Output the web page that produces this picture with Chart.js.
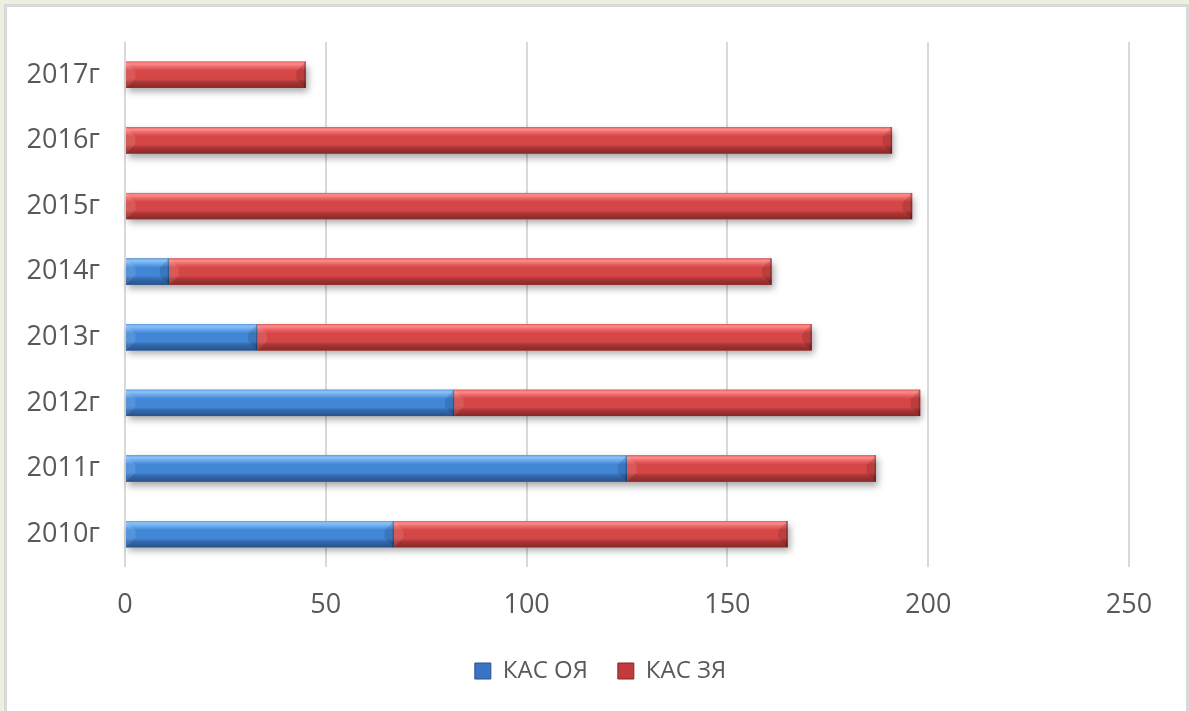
<!DOCTYPE html>
<html>
<head>
<meta charset="utf-8">
<script src="https://cdn.jsdelivr.net/npm/chart.js@4/dist/chart.umd.min.js"></script>
<style>
  html, body { margin: 0; padding: 0; background: #ebf1de; width: 1189px; height: 711px; overflow: hidden; }
  #frame {
    position: absolute; left: 4px; top: 4px; width: 1179px; height: 707px;
    border-left: 3px solid #d9d9d9; border-top: 3px solid #d9d9d9; border-right: 3px solid #d9d9d9;
    background: #ffffff;
  }
  #wrap { position: absolute; left: 0; top: 0; width: 1179px; height: 704px; }
</style>
</head>
<body>
<div id="frame"><div id="wrap"><canvas id="c"></canvas></div></div>
<script>
// Years (bottom to top)
const years = ['2010г', '2011г', '2012г', '2013г', '2014г', '2015г', '2016г', '2017г'];
// КАС ОЯ
const kasOY = [67, 125, 82, 33, 11, 0, 0, 0];
// КАС ЗЯ
const kasZY = [98, 62, 116, 138, 150, 196, 191, 45];
// X axis ticks
const xTicks = [0, 50, 100, 150, 200, 250];

const FONT = '"Open Sans", "Liberation Sans", sans-serif';
const TEXT = '#595959';

// Shading for the bevelled bars
const shades = {
  blue: { top: '#8cc2f6', hi: '#62a3ea', mid: '#4287d6', low: '#3468ad', edge: '#28528a', box: '#3a74c4' },
  red:  { top: '#fa8e8e', hi: '#ea6060', mid: '#d54747', low: '#ab3535', edge: '#862929', box: '#c23a3a' }
};

// Centre the legend on the whole canvas rather than on the padded area
const legendShift = {
  id: 'legendShift',
  afterLayout(chart) {
    const lg = chart.legend;
    if (!lg) return;
    const dx = chart.width / 2 + 4 - (lg.left + lg.right) / 2;
    lg.left += dx; lg.right += dx;
  }
};

const bevelPlugin = {
  id: 'bevel',
  beforeDatasetsDraw(chart) {
    // soft drop shadow beneath each stacked bar
    const ctx = chart.ctx;
    const metas = chart.getSortedVisibleDatasetMetas();
    const n = chart.data.labels.length;
    ctx.save();
    for (let i = 0; i < n; i++) {
      let minX = Infinity, maxX = -Infinity, y = 0, h = 0;
      metas.forEach(m => {
        const el = m.data[i];
        if (!el) return;
        const a = Math.min(el.x, el.base), b = Math.max(el.x, el.base);
        if (b - a < 0.5) return;
        minX = Math.min(minX, a); maxX = Math.max(maxX, b); y = el.y; h = el.height;
      });
      if (!isFinite(minX)) continue;
      ctx.shadowColor = 'rgba(0,0,0,0.35)';
      ctx.shadowBlur = 7;
      ctx.shadowOffsetX = 2;
      ctx.shadowOffsetY = 4;
      ctx.fillStyle = '#888';
      ctx.fillRect(minX, y - h / 2, maxX - minX, h);
    }
    ctx.restore();
  },
  afterDatasetsDraw(chart) {
    const ctx = chart.ctx;
    chart.getSortedVisibleDatasetMetas().forEach(meta => {
      const s = chart.data.datasets[meta.index].shade;
      meta.data.forEach(el => {
        const x0 = Math.min(el.x, el.base), x1 = Math.max(el.x, el.base);
        const w = x1 - x0;
        if (w < 0.5) return;
        const h = el.height, top = el.y - h / 2, bot = el.y + h / 2;
        const g = ctx.createLinearGradient(0, top, 0, bot);
        g.addColorStop(0, s.hi);
        g.addColorStop(0.08, s.top);
        g.addColorStop(0.22, s.hi);
        g.addColorStop(0.34, s.mid);
        g.addColorStop(0.66, s.mid);
        g.addColorStop(0.78, s.low);
        g.addColorStop(1, s.edge);
        ctx.save();
        ctx.fillStyle = g;
        ctx.fillRect(x0, top, w, h);
        const bv = Math.min(h * 0.36, w / 2);
        // left facet (lit)
        ctx.beginPath();
        ctx.moveTo(x0, top); ctx.lineTo(x0 + bv, top + bv); ctx.lineTo(x0 + bv, bot - bv); ctx.lineTo(x0, bot); ctx.closePath();
        ctx.fillStyle = 'rgba(255,255,255,0.10)';
        ctx.fill();
        // right facet (shaded)
        ctx.beginPath();
        ctx.moveTo(x1, top); ctx.lineTo(x1 - bv, top + bv); ctx.lineTo(x1 - bv, bot - bv); ctx.lineTo(x1, bot); ctx.closePath();
        ctx.fillStyle = 'rgba(0,0,0,0.12)';
        ctx.fill();
        // dark rim on the right end
        ctx.fillStyle = 'rgba(0,0,0,0.22)';
        ctx.fillRect(x1 - 1.5, top, 1.5, h);
        ctx.restore();
      });
    });
  }
};

new Chart(document.getElementById('c'), {
  type: 'bar',
  data: {
    labels: years,
    datasets: [
      { label: 'КАС ОЯ', data: kasOY, backgroundColor: shades.blue.mid, shade: shades.blue, borderWidth: 0 },
      { label: 'КАС ЗЯ', data: kasZY, backgroundColor: shades.red.mid, shade: shades.red, borderWidth: 0 }
    ]
  },
  options: {
    indexAxis: 'y',
    responsive: true,
    maintainAspectRatio: false,
    animation: false,
    layout: { padding: { top: 35, right: 57, left: 0, bottom: 18 } },
    datasets: { bar: { categoryPercentage: 0.8, barPercentage: 0.5 } },
    scales: {
      x: {
        stacked: true,
        min: 0, max: 250,
        afterBuildTicks(scale) { scale.ticks = xTicks.map(v => ({ value: v })); },
        grid: { color: '#d9d9d9', lineWidth: 2, drawTicks: false },
        border: { display: false },
        ticks: { color: TEXT, font: { family: FONT, size: 27 }, padding: 22 },
        afterFit(scale) { scale.height = 62; }
      },
      y: {
        stacked: true,
        reverse: true,
        grid: { display: false },
        border: { display: false },
        ticks: { color: TEXT, font: { family: FONT, size: 27 }, padding: 17 },
        afterFit(scale) { scale.width = 118; }
      }
    },
    plugins: {
      legend: {
        position: 'bottom',
        labels: {
          color: TEXT,
          font: { family: FONT, size: 24 },
          boxWidth: 16, boxHeight: 16,
          padding: 30,
          generateLabels(chart) {
            return chart.data.datasets.map((d, i) => ({
              text: d.label, fillStyle: d.shade.box, strokeStyle: d.shade.edge, lineWidth: 1,
              fontColor: TEXT, datasetIndex: i, hidden: false
            }));
          }
        }
      },
      tooltip: { enabled: false }
    }
  },
  plugins: [bevelPlugin, legendShift]
});
</script>
</body>
</html>
